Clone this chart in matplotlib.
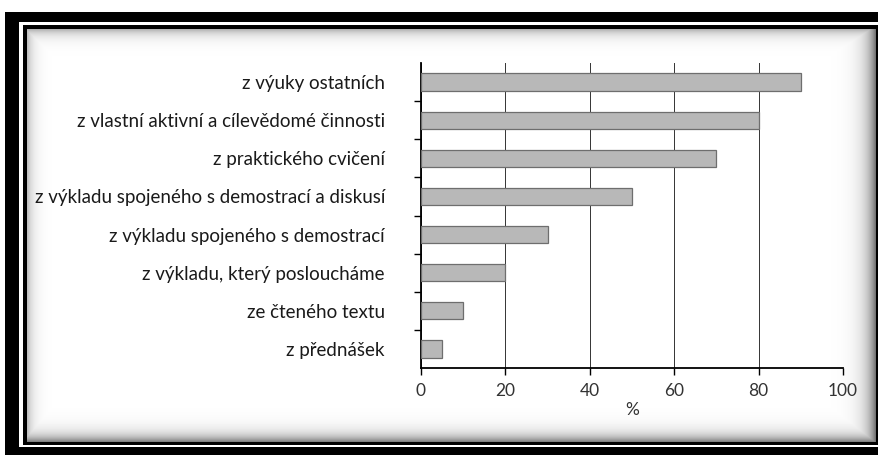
import numpy as np
import matplotlib.pyplot as plt

categories = [
    "z výuky ostatních",
    "z vlastní aktivní a cílevědomé činnosti",
    "z praktického cvičení",
    "z výkladu spojeného s demostrací a diskusí",
    "z výkladu spojeného s demostrací",
    "z výkladu, který posloucháme",
    "ze čteného textu",
    "z přednášek",
]
values = [90, 80, 70, 50, 30, 20, 10, 5]
xticks = [0, 20, 40, 60, 80, 100]

W, H = 879, 455
plt.rcParams['font.family'] = ['Lato', 'DejaVu Sans']

fig = plt.figure(figsize=(W / 100, H / 100), dpi=100)

# scanned-page frame: thick black border, thin inner line, soft shadow
bg = np.ones((H, W))
bg[12:, 5:] = 0
bg[22:447, 19:] = 1
bg[25:445, 23:] = 0
yy, xx = np.mgrid[29:442, 27:876]
shade = np.maximum.reduce([
    0.55 * np.exp(-(875 - xx) / 9.0),
    0.5 * np.exp(-(441 - yy) / 7.0),
    0.25 * np.exp(-(xx - 27) / 6.0),
    0.3 * np.exp(-(yy - 29) / 6.0),
])
bg[29:442, 27:876] = 1 - shade
ax_bg = fig.add_axes([0, 0, 1, 1])
ax_bg.imshow(bg, cmap='gray', vmin=0, vmax=1, aspect='auto', interpolation='bilinear')
ax_bg.axis('off')

x0, x1, y0, y1 = 421, 843, 63, 368
ax = fig.add_axes([x0 / W, 1 - y1 / H, (x1 - x0) / W, (y1 - y0) / H])
ax.patch.set_alpha(0)

pos = np.arange(len(categories))
ax.barh(pos, values, height=0.45, color='#b8b8b8', edgecolor='#6e6e6e', linewidth=0.9, zorder=3)
ax.set_ylim(len(categories) - 0.5, -0.5)
ax.set_xlim(0, 100)

ax.set_yticks(pos)
ax.set_yticklabels(categories, fontsize=13.5, color='#1a1a1a')
ax.tick_params(axis='y', which='major', length=0, pad=26)
ax.set_yticks(pos[:-1] + 0.5, minor=True)
ax.tick_params(axis='y', which='minor', length=5, width=1.0, direction='out')

ax.set_xticks(xticks)
ax.tick_params(axis='x', length=5, width=1.0, direction='out', labelsize=12.5, labelcolor='#333333', pad=6)
ax.set_xlabel('%', fontsize=12.5, color='#333333', labelpad=2)
ax.grid(axis='x', color='#333333', linewidth=0.7, zorder=1)

ax.spines['top'].set_visible(False)
ax.spines['right'].set_visible(False)
ax.spines['left'].set_linewidth(1.3)
ax.spines['bottom'].set_linewidth(1.3)

fig.savefig('out.png', dpi=100)
